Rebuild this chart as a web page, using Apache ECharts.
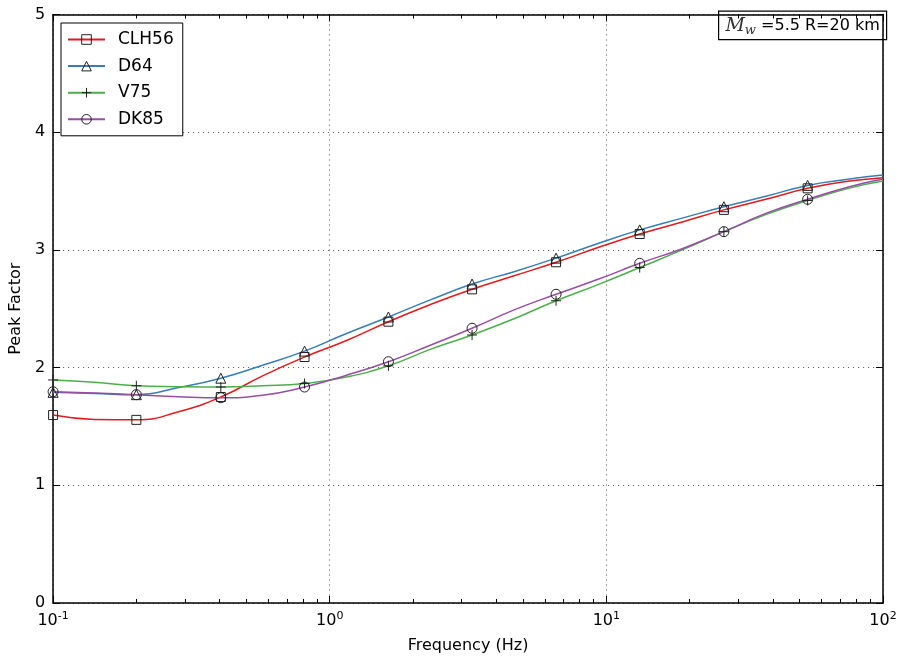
<!DOCTYPE html>
<html>
<head>
<meta charset="utf-8">
<script src="https://cdn.jsdelivr.net/npm/echarts@6/dist/echarts.min.js"></script>
<style>
html,body{margin:0;padding:0;background:#fff;}
#chart{width:902px;height:662px;}
</style>
</head>
<body>
<div id="chart"></div>
<script>
// Frequencies (Hz) at which curve values were read
const freqs = [0.1, 0.141, 0.2, 0.284, 0.404, 0.572, 0.811, 1.15, 1.63, 2.31, 3.27, 4.64, 6.58, 9.33, 13.2, 18.8, 26.6, 37.7, 53.4, 75.7, 100];
// Frequencies that carry a marker
const markerFreqs = [0.1, 0.2, 0.404, 0.811, 1.63, 3.27, 6.58, 13.2, 26.6, 53.4];
// Peak factor values
const clh56 = [1.597, 1.56, 1.556, 1.625, 1.75, 1.93, 2.09, 2.23, 2.39, 2.535, 2.665, 2.78, 2.895, 3.02, 3.135, 3.237, 3.34, 3.43, 3.523, 3.585, 3.614];
const d64   = [1.79, 1.78, 1.77, 1.83, 1.91, 2.02, 2.14, 2.29, 2.43, 2.575, 2.71, 2.815, 2.93, 3.055, 3.17, 3.27, 3.367, 3.455, 3.548, 3.602, 3.636];
const v75   = [1.895, 1.875, 1.846, 1.838, 1.835, 1.845, 1.865, 1.92, 2.015, 2.155, 2.277, 2.415, 2.568, 2.705, 2.85, 3.0, 3.155, 3.3, 3.42, 3.525, 3.585];
const dk85  = [1.795, 1.784, 1.77, 1.753, 1.744, 1.765, 1.835, 1.935, 2.05, 2.19, 2.334, 2.49, 2.623, 2.75, 2.886, 3.01, 3.155, 3.31, 3.43, 3.537, 3.602];
const seriesNames = ['CLH56', 'D64', 'V75', 'DK85'];
// Tick labels
const xMajorTicks = [0.1, 1, 10, 100];
const xMinorTicks = [0.2,0.3,0.4,0.5,0.6,0.7,0.8,0.9,2,3,4,5,6,7,8,9,20,30,40,50,60,70,80,90];
const yTicks = [0, 1, 2, 3, 4, 5];

const FONT = 'DejaVu Sans';
const colors = ['#e41a1c', '#377eb8', '#4daf4a', '#984ea3'];
const symbols = ['rect', 'triangle', 'path://M0,5L10,5M5,0L5,10', 'circle'];
const sizes = [9, 10, 10, 10];
const allValues = [clh56, d64, v75, dk85];

function buildData(vals) {
  return freqs.map((f, i) => {
    const item = { value: [f, vals[i]] };
    if (markerFreqs.indexOf(f) < 0) item.symbol = 'none';
    return item;
  });
}

const series = seriesNames.map((name, k) => ({
  name: name,
  type: 'line',
  xAxisIndex: 0,
  yAxisIndex: 0,
  smooth: 0.5,
  showSymbol: true,
  symbol: symbols[k],
  symbolSize: sizes[k],
  lineStyle: { color: colors[k], width: 1.5 },
  itemStyle: { color: 'rgba(0,0,0,0)', borderColor: '#222', borderWidth: 1 },
  color: colors[k],
  emphasis: { disabled: true },
  data: buildData(allValues[k])
}));

function supLabel(v) {
  const e = Math.round(Math.log10(v));
  return '10{s|' + e + '}';
}

const axisLineStyle = { color: '#000', width: 1.5 };
const tickStyle = { color: '#000', width: 1 };

const option = {
  animation: false,
  backgroundColor: '#fff',
  grid: { left: 52.5, right: 19, top: 14.5, bottom: 59, containLabel: false },
  legend: {
    orient: 'vertical',
    left: 61, top: 23,
    padding: [8, 9, 8, 6],
    itemWidth: 37, itemHeight: 12, itemGap: 9.6,
    borderColor: '#000', borderWidth: 1,
    backgroundColor: '#fff',
    selectedMode: false,
    data: seriesNames,
    itemStyle: { color: 'rgba(0,0,0,0)', borderColor: '#222', borderWidth: 1 },
    textStyle: { fontFamily: FONT, fontSize: 17, color: '#000', lineHeight: 16, padding: [0, 0, 0, 8] }
  },
  xAxis: [
    {
      type: 'log', logBase: 10, min: 0.1, max: 100, position: 'bottom',
      name: 'Frequency (Hz)', nameLocation: 'middle', nameGap: 35,
      nameTextStyle: { fontFamily: FONT, fontSize: 16, color: '#000' },
      axisLine: { show: true, lineStyle: axisLineStyle },
      axisTick: { show: true, inside: true, length: 7, lineStyle: tickStyle, customValues: xMajorTicks },
      axisLabel: {
        show: true, margin: 8, customValues: xMajorTicks, showMinLabel: true, showMaxLabel: true,
        formatter: supLabel,
        fontFamily: FONT, fontSize: 16, color: '#000',
        rich: { s: { fontFamily: FONT, fontSize: 11, color: '#000', verticalAlign: 'top', padding: [0, 0, 8, 0] } }
      },
      splitLine: { show: true, lineStyle: { color: '#555', type: [1, 4], width: 1 } },
      minorTick: { show: false }
    },
    {
      type: 'log', logBase: 10, min: 0.1, max: 100, position: 'bottom',
      axisLine: { show: false },
      axisTick: { show: true, inside: true, length: 4, lineStyle: tickStyle, customValues: xMinorTicks },
      axisLabel: { show: false }, splitLine: { show: false }
    },
    {
      type: 'log', logBase: 10, min: 0.1, max: 100, position: 'top',
      axisLine: { show: true, lineStyle: axisLineStyle },
      axisTick: { show: true, inside: true, length: 7, lineStyle: tickStyle, customValues: xMajorTicks },
      axisLabel: { show: false }, splitLine: { show: false }
    },
    {
      type: 'log', logBase: 10, min: 0.1, max: 100, position: 'top',
      axisLine: { show: false },
      axisTick: { show: true, inside: true, length: 4, lineStyle: tickStyle, customValues: xMinorTicks },
      axisLabel: { show: false }, splitLine: { show: false }
    }
  ],
  yAxis: [
    {
      type: 'value', min: 0, max: 5, interval: 1, position: 'left',
      name: 'Peak Factor', nameLocation: 'middle', nameGap: 27, nameRotate: 90,
      nameTextStyle: { fontFamily: FONT, fontSize: 16, color: '#000' },
      axisLine: { show: true, lineStyle: axisLineStyle },
      axisTick: { show: true, inside: true, length: 7, lineStyle: tickStyle },
      axisLabel: { margin: 8, fontFamily: FONT, fontSize: 16, color: '#000',
        customValues: yTicks },
      splitLine: { show: true, lineStyle: { color: '#555', type: [1, 4], width: 1 } }
    },
    {
      type: 'value', min: 0, max: 5, interval: 1, position: 'right',
      axisLine: { show: true, lineStyle: axisLineStyle },
      axisTick: { show: true, inside: true, length: 7, lineStyle: tickStyle },
      axisLabel: { show: false }, splitLine: { show: false }
    }
  ],
  graphic: [
    {
      type: 'group', left: 718, top: 10.5, z: 100,
      children: [
        { type: 'rect', shape: { x: 0, y: 0, width: 168, height: 28.5 },
          style: { fill: '#fff', stroke: '#000', lineWidth: 1.2 } },
        { type: 'text', x: 84, y: 14.5,
          style: {
            text: '{m|M}{w|w}{t| =5.5 R=20 km}',
            align: 'center', verticalAlign: 'middle',
            rich: {
              m: { fontFamily: 'DejaVu Serif', fontStyle: 'italic', fontSize: 19, fill: '#333', lineHeight: 24, verticalAlign: 'middle' },
              w: { fontFamily: 'DejaVu Serif', fontStyle: 'italic', fontSize: 13, fill: '#333', lineHeight: 24, verticalAlign: 'bottom' },
              t: { fontFamily: FONT, fontSize: 16, fill: '#000', lineHeight: 24, verticalAlign: 'middle' }
            }
          }
        }
      ]
    }
  ],
  series: series
};

const chart = echarts.init(document.getElementById('chart'), null, { renderer: 'canvas' });
chart.setOption(option);
</script>
</body>
</html>
